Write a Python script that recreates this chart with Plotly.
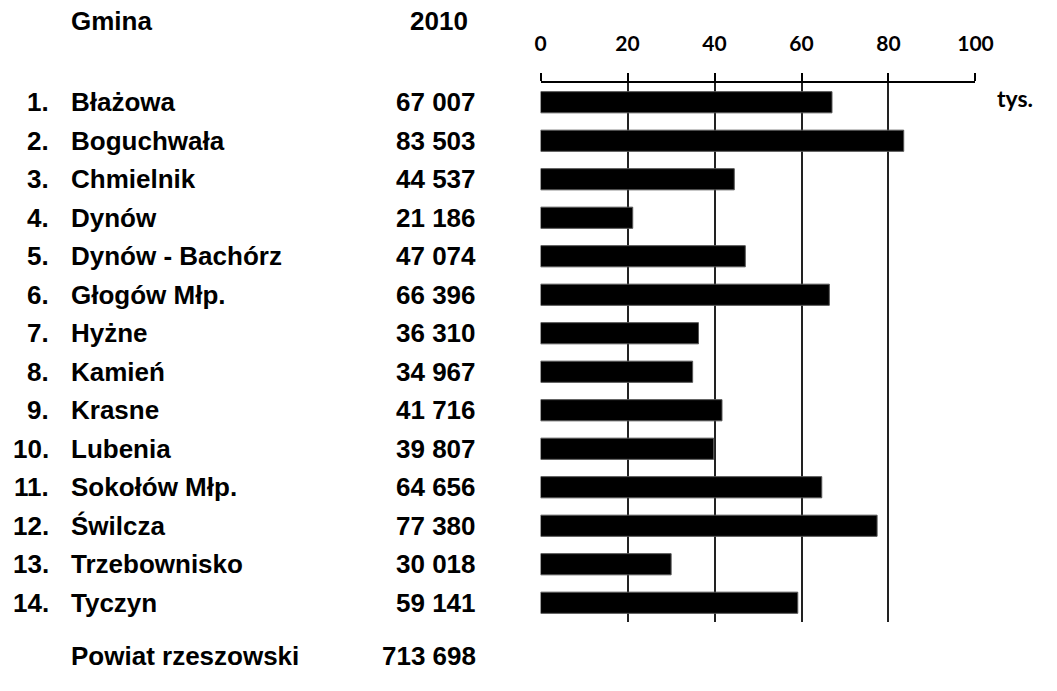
import plotly.graph_objects as go

# ---- data ----
gminy = ["Błażowa", "Boguchwała", "Chmielnik", "Dynów", "Dynów - Bachórz",
         "Głogów Młp.", "Hyżne", "Kamień", "Krasne", "Lubenia",
         "Sokołów Młp.", "Świlcza", "Trzebownisko", "Tyczyn"]
ludnosc_2010 = [67007, 83503, 44537, 21186, 47074, 66396, 36310, 34967,
                41716, 39807, 64656, 77380, 30018, 59141]
powiat_nazwa = "Powiat rzeszowski"
powiat_2010 = 713698
tick_vals = [0, 20, 40, 60, 80, 100]
grid_vals = [20, 40, 60, 80]
header_name = "Gmina"
header_year = "2010"
unit_label = "tys."

W, H = 1057, 691
TXT_FONT = dict(family="Liberation Sans, Arial, sans-serif", size=26, color="black")
AX_FONT = dict(family="Lato, Open Sans, sans-serif", size=21, color="black", weight="bold")
UNIT_FONT = dict(family="Lato, Open Sans, sans-serif", size=23, color="black", weight="bold")


def px(x):
    return x / W


def py(y):
    return 1 - y / H


def fmt(v):
    return f"{v:,}".replace(",", " ")


fig = go.Figure()
fig.add_trace(go.Bar(
    x=[v / 1000 for v in ludnosc_2010],
    y=gminy,
    orientation="h",
    width=0.55,
    marker=dict(color="black", line=dict(color="#555555", width=1)),
    hoverinfo="skip",
))

annotations = []
for i, (name, val) in enumerate(zip(gminy, ludnosc_2010)):
    annotations.append(dict(text=f"<b>{i + 1}.</b>", x=px(46), xref="paper", y=name, yref="y",
                            xanchor="right", yanchor="middle", showarrow=False, font=TXT_FONT))
    annotations.append(dict(text=f"<b>{name}</b>", x=px(64), xref="paper", y=name, yref="y",
                            xanchor="left", yanchor="middle", showarrow=False, font=TXT_FONT))
    annotations.append(dict(text=f"<b>{fmt(val)}</b>", x=px(483), xref="paper", y=name, yref="y",
                            xanchor="right", yanchor="middle", showarrow=False, font=TXT_FONT))

annotations += [
    dict(text=f"<b>{header_name}</b>", x=px(64), y=py(21), xref="paper", yref="paper",
         xanchor="left", yanchor="middle", showarrow=False, font=TXT_FONT),
    dict(text=f"<b>{header_year}</b>", x=px(475), y=py(21), xref="paper", yref="paper",
         xanchor="right", yanchor="middle", showarrow=False, font=TXT_FONT),
    dict(text=f"<b>{powiat_nazwa}</b>", x=px(64), y=py(656), xref="paper", yref="paper",
         xanchor="left", yanchor="middle", showarrow=False, font=TXT_FONT),
    dict(text=f"<b>{fmt(powiat_2010)}</b>", x=px(483), y=py(656), xref="paper", yref="paper",
         xanchor="right", yanchor="middle", showarrow=False, font=TXT_FONT),
    dict(text=unit_label, x=px(1012), y=py(98), xref="paper", yref="paper",
         xanchor="left", yanchor="middle", showarrow=False, font=UNIT_FONT),
]

fig.update_layout(
    width=W, height=H,
    margin=dict(l=0, r=0, t=0, b=0),
    paper_bgcolor="white", plot_bgcolor="white",
    showlegend=False,
    annotations=annotations,
    xaxis=dict(
        domain=[px(547), px(992)],
        range=[0, 100],
        side="top",
        tickmode="array", tickvals=tick_vals,
        ticks="outside", ticklen=8, tickwidth=1.5, tickcolor="black",
        showline=True, linecolor="black", linewidth=1.5,
        showgrid=False, zeroline=False,
        tickfont=AX_FONT,
        ticklabelstandoff=14,
        minor=dict(tickmode="array", tickvals=grid_vals, showgrid=True,
                   gridcolor="#222222", gridwidth=1.5, ticks=""),
        fixedrange=True,
    ),
    yaxis=dict(
        domain=[py(622), py(83)],
        type="category",
        categoryorder="array", categoryarray=gminy,
        range=[len(gminy) - 0.5, -0.5],
        showticklabels=False, showgrid=False, zeroline=False, showline=False,
        ticks="",
        fixedrange=True,
    ),
)

fig.write_html("out.html", config={"displayModeBar": False},
               post_script="document.body.style.margin='0';")
